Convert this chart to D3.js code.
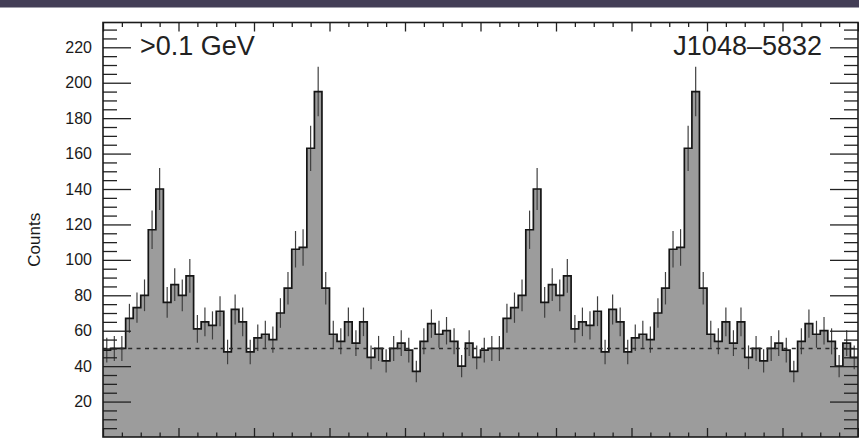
<!DOCTYPE html>
<html>
<head>
<meta charset="utf-8">
<script src="https://cdn.jsdelivr.net/npm/d3@7"></script>
<style>
  html, body { margin: 0; padding: 0; background: #fff; }
  svg { display: block; font-family: "Liberation Sans", Arial, Helvetica, sans-serif; }
</style>
</head>
<body>
<svg id="chart" width="859" height="442"></svg>
<script>
// Photon counts per phase bin (50 bins per rotation), folded light curve
const counts = [49, 50, 50, 67, 73, 80, 117, 140, 76, 86,
                80, 91, 61, 65, 63, 71, 48, 72, 65, 48,
                56, 58, 55, 70, 84, 106, 107, 163, 195, 84,
                58, 54, 65, 53, 65, 45, 50, 43, 50, 53,
                49, 37, 54, 64, 58, 60, 54, 40, 53, 45];
const rotations = [0, 1];                  // the profile is shown twice
const yMajorTicks = [20, 40, 60, 80, 100, 120, 140, 160, 180, 200, 220];
const backgroundLevel = 50;                // estimated background counts
const energyLabel = ">0.1 GeV";
const pulsarName = "J1048\u20135832";
const yLabel = "Counts";

const svg = d3.select("#chart");
const W = 859, H = 442;
const plot = { left: 103, right: 858, top: 22.5, bottom: 437 };

// header band
svg.append("rect").attr("x", 0).attr("y", 0).attr("width", W).attr("height", 7.5)
  .attr("fill", "#433e56");

const x = d3.scaleLinear().domain([0, 2]).range([plot.left, plot.right]);
const y = d3.scaleLinear().domain([0, 234]).range([plot.bottom, plot.top]);

const nb = counts.length;
const bins = [];
rotations.forEach(r => counts.forEach((n, i) => {
  bins.push({ x0: r + i / nb, x1: r + (i + 1) / nb, n });
}));
const stepPts = bins.map(b => [b.x0, b.n]).concat([[bins[bins.length - 1].x1, bins[bins.length - 1].n]]);

const g = svg.append("g");

// filled histogram
g.append("path")
  .datum(stepPts)
  .attr("fill", "#9c9c9c")
  .attr("d", d3.area().curve(d3.curveStepAfter)
    .x(d => x(d[0])).y0(y(0)).y1(d => y(d[1])));

// Poisson error bars
g.selectAll("line.err").data(bins).join("line")
  .attr("class", "err")
  .attr("x1", d => x((d.x0 + d.x1) / 2)).attr("x2", d => x((d.x0 + d.x1) / 2))
  .attr("y1", d => y(d.n - Math.sqrt(d.n))).attr("y2", d => y(d.n + Math.sqrt(d.n)))
  .attr("stroke", "#404040").attr("stroke-width", 1.2);

// histogram outline
g.append("path")
  .datum(stepPts)
  .attr("fill", "none").attr("stroke", "#151515").attr("stroke-width", 1.7)
  .attr("d", d3.line().curve(d3.curveStepAfter).x(d => x(d[0])).y(d => y(d[1])));

// background level
g.append("line")
  .attr("x1", plot.left).attr("x2", plot.right)
  .attr("y1", y(backgroundLevel)).attr("y2", y(backgroundLevel))
  .attr("stroke", "#2a2a2a").attr("stroke-width", 1.6).attr("stroke-dasharray", "4 4.4");

// axes (ticks drawn inward on all four sides)
const yMinor = d3.range(5, 234, 5).filter(v => v % 20 !== 0);
const xMajor = d3.range(0, 2.0001, 0.2);
const xMinor = d3.range(0, 2.0001, 0.05).filter(v => Math.abs(v / 0.2 - Math.round(v / 0.2)) > 1e-6);

function styleAxis(sel) {
  sel.select(".domain").remove();
  sel.selectAll(".tick line").attr("stroke", "#222").attr("stroke-width", 1.3);
  sel.selectAll(".tick text").attr("fill", "#1a1a1a").attr("font-size", 16);
}

svg.append("g").attr("transform", `translate(${plot.left},0)`)
  .call(d3.axisLeft(y).tickValues(yMajorTicks).tickSize(-28).tickPadding(11).tickFormat(d3.format("d")))
  .call(styleAxis).call(s => s.attr("font-family", null));
svg.append("g").attr("transform", `translate(${plot.left},0)`)
  .call(d3.axisLeft(y).tickValues(yMinor).tickSize(-14).tickFormat(""))
  .call(styleAxis);
svg.append("g").attr("transform", `translate(${plot.right},0)`)
  .call(d3.axisRight(y).tickValues(yMajorTicks).tickSize(-28).tickFormat(""))
  .call(styleAxis);
svg.append("g").attr("transform", `translate(${plot.right},0)`)
  .call(d3.axisRight(y).tickValues(yMinor).tickSize(-14).tickFormat(""))
  .call(styleAxis);
svg.append("g").attr("transform", `translate(0,${plot.bottom})`)
  .call(d3.axisBottom(x).tickValues(xMajor).tickSize(-9).tickFormat(""))
  .call(styleAxis);
svg.append("g").attr("transform", `translate(0,${plot.bottom})`)
  .call(d3.axisBottom(x).tickValues(xMinor).tickSize(-4.5).tickFormat(""))
  .call(styleAxis);
svg.append("g").attr("transform", `translate(0,${plot.top})`)
  .call(d3.axisTop(x).tickValues(xMajor).tickSize(-9).tickFormat(""))
  .call(styleAxis);
svg.append("g").attr("transform", `translate(0,${plot.top})`)
  .call(d3.axisTop(x).tickValues(xMinor).tickSize(-4.5).tickFormat(""))
  .call(styleAxis);

// frame
svg.append("rect")
  .attr("x", plot.left).attr("y", plot.top)
  .attr("width", plot.right - plot.left).attr("height", plot.bottom - plot.top)
  .attr("fill", "none").attr("stroke", "#1a1a1a").attr("stroke-width", 1.6);

// labels
svg.append("text")
  .attr("transform", `translate(40,${(plot.top + plot.bottom) / 2 + 10}) rotate(-90)`)
  .attr("text-anchor", "middle").attr("font-size", 17).attr("fill", "#1a1a1a")
  .text(yLabel);
svg.append("text").attr("x", 140).attr("y", 55)
  .attr("font-size", 27).attr("fill", "#222").text(energyLabel);
svg.append("text").attr("x", 822).attr("y", 55).attr("text-anchor", "end")
  .attr("font-size", 27).attr("fill", "#222").text(pulsarName);
</script>
</body>
</html>
